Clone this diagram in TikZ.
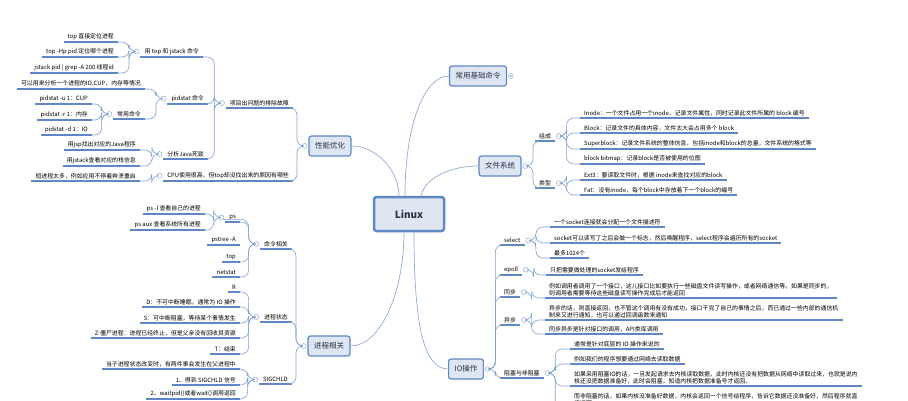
\documentclass[tikz,border=0pt]{standalone}
\usepackage{fontspec}
\setmainfont{Noto Sans CJK SC}
\usetikzlibrary{positioning}
\definecolor{MapBlue}{RGB}{95,135,195}
\definecolor{MapFill}{RGB}{222,230,242}
\definecolor{MapText}{RGB}{40,50,70}
\tikzset{
  topic/.style={draw=MapBlue, fill=MapFill, rounded corners=2.5pt, line width=1.2pt,
    font=\fontsize{7.5}{9}\selectfont, text=MapText, minimum height=20pt, inner xsep=6pt},
  uline/.style={draw=MapBlue, line width=1.2pt},
  leaf/.style={font=\fontsize{5.9}{7}\selectfont, inner xsep=4pt, inner ysep=2pt,
    append after command={(\tikzlastnode.south west) edge[uline] (\tikzlastnode.south east)}},
  branch/.style={draw=MapBlue!80, line width=0.6pt, rounded corners=7pt},
  link/.style={draw=MapBlue!70, line width=0.7pt},
  tog/.style={circle, draw=MapBlue!80, fill=white, inner sep=0pt, minimum size=5pt, line width=0.4pt},
}
\newcommand{\lbr}[2]{\draw[branch] (#1.west) -- ++(-5,0) |- (#2.south east);}
\newcommand{\rbr}[2]{\draw[branch] (#1.east) -- ++(5,0) |- (#2.south west);}
\begin{document}
\begin{tikzpicture}[x=1pt, y=-1pt]
    \useasboundingbox (0,0) rectangle (908,400);

    % Centre et thèmes
    \node[topic, line width=2.5pt, minimum width=70pt, minimum height=34pt, font=\fontsize{10}{12}\selectfont\bfseries] (linux) at (409,214) {Linux};
    \node[topic] (cmdb) at (478,76) {常用基础命令};
    \node[topic] (perf) at (330,146) {性能优化};
    \node[topic] (fs) at (500,166) {文件系统};
    \node[topic] (proc) at (329,346) {进程相关};
    \node[topic] (io) at (466,369) {IO操作};
    \draw[link] ([xshift=-4pt]linux.north) .. controls +(0,-70) and +(-25,0) .. (cmdb.west);
    \draw[link] ([xshift=-10pt]linux.north) .. controls +(0,-25) and +(25,0) .. (perf.east);
    \draw[link] ([xshift=12pt]linux.north) .. controls +(5,-20) and +(-25,0) .. (fs.west);
    \draw[link] ([xshift=-5pt]linux.south) .. controls +(0,60) and +(30,0) .. (proc.east);
    \draw[link] ([xshift=5pt]linux.south) .. controls +(0,90) and +(-25,0) .. (io.west);
    \node[tog, right=1pt of cmdb] (cmdbt) {};
    \fill[MapBlue] (cmdbt) circle (0.9);

    % Performance
    \node[tog, left=1pt of perf] (perft) {};
    \node[leaf, anchor=south east] (trb) at (293,108) {项目出问题的排除故障};
    \node[leaf, anchor=south east] (cpu) at (293,181) {CPU使用很高，但top却没找出来的原因有哪些};
    \node[leaf, anchor=south east] (tj) at (203,57) {用 top 和 jstack 命令};
    \node[leaf, anchor=south east] (pid) at (208,104) {pidstat 命令};
    \node[leaf, anchor=south east] (jdl) at (208,159) {分析Java死锁};
    \node[leaf, anchor=south east] (t1) at (118,42) {top 直接定位进程};
    \node[leaf, anchor=south east] (t2) at (118,57) {top -Hp pid 定位哪个进程};
    \node[leaf, anchor=south east] (t3) at (118,73) {jstack pid | grep -A 200 线程id};
    \node[leaf, anchor=south east] (p1) at (145,89) {可以用来分析一个进程的IO,CUP，内存等情况};
    \node[leaf, anchor=south east] (pc) at (145,119) {常用命令};
    \node[leaf, anchor=south east] (pc1) at (92,104) {pidstat -u 1：CUP};
    \node[leaf, anchor=south east] (pc2) at (92,120) {pidstat -r 1：内存};
    \node[leaf, anchor=south east] (pc3) at (92,135) {pidstat -d 1：IO};
    \node[leaf, anchor=south east] (j1) at (140,150) {用jsp找出对应的Java程序};
    \node[leaf, anchor=south east] (j2) at (140,166) {用jstack查看对应的栈信息};
    \node[leaf, anchor=south east] (c1) at (140,181) {短进程太多，例如应用不停着奔溃重启};
    \foreach \p in {trb,cpu,tj,pid,jdl,pc}
        \node[tog, left=1pt of \p] (\p t) {};
    \foreach \c in {trb,cpu} {\lbr{perft}{\c}}
    \foreach \c in {tj,pid,jdl} {\lbr{trbt}{\c}}
    \foreach \c in {t1,t2,t3} {\lbr{tjt}{\c}}
    \foreach \c in {p1,pc} {\lbr{pidt}{\c}}
    \foreach \c in {pc1,pc2,pc3} {\lbr{pct}{\c}}
    \foreach \c in {j1,j2} {\lbr{jdlt}{\c}}
    \lbr{cput}{c1}

    % Processus
    \node[tog, left=1pt of proc] (proct) {};
    \node[leaf, anchor=south east] (cmd) at (292,249) {命令相关};
    \node[leaf, anchor=south east] (st) at (292,322) {进程状态};
    \node[leaf, anchor=south east] (sig) at (292,384) {SIGCHLD};
    \node[leaf, anchor=south east] (ps) at (240,222) {ps};
    \node[leaf, anchor=south east] (ps1) at (205,214) {ps -l 查看自己的进程};
    \node[leaf, anchor=south east] (ps2) at (205,230) {ps aux 查看系统所有进程};
    \node[leaf, anchor=south east] (pst) at (240,245) {pstree -A};
    \node[leaf, anchor=south east] (top) at (240,262) {top};
    \node[leaf, anchor=south east] (net) at (240,277) {netstat};
    \node[leaf, anchor=south east] (sR) at (240,292) {R};
    \node[leaf, anchor=south east] (sD) at (240,307) {D：不可中断睡眠，通常为 IO 操作};
    \node[leaf, anchor=south east] (sS) at (240,323) {S：可中断阻塞，等待某个事情发生};
    \node[leaf, anchor=south east] (sZ) at (240,338) {Z:僵尸进程：进程已经终止，但是父亲没有回收其资源};
    \node[leaf, anchor=south east] (sT) at (240,354) {T：结束};
    \node[leaf, anchor=south east] (g0) at (240,369) {当子进程状态改变时，有两件事会发生在父进程中};
    \node[leaf, anchor=south east] (g1) at (240,385) {1、得到 SIGCHLD 信号};
    \node[leaf, anchor=south east] (g2) at (240,399) {2、waitpid()或者wait()调用返回};
    \foreach \p in {cmd,st,sig,ps}
        \node[tog, left=1pt of \p] (\p t) {};
    \foreach \c in {cmd,st,sig} {\lbr{proct}{\c}}
    \foreach \c in {ps,pst,top,net} {\lbr{cmdt}{\c}}
    \foreach \c in {ps1,ps2} {\lbr{pst}{\c}}
    \foreach \c in {sR,sD,sS,sZ,sT} {\lbr{stt}{\c}}
    \foreach \c in {g0,g1,g2} {\lbr{sigt}{\c}}

    % Systeme de fichiers
    \node[tog, right=1pt of fs] (fst) {};
    \node[leaf, anchor=south west] (zc) at (535,141) {组成};
    \node[leaf, anchor=south west] (lx) at (535,188) {类型};
    \node[leaf, anchor=south west] (fi) at (580,118) {Inode：一个文件占用一个inode，记录文件属性，同时记录此文件所属的 block 编号};
    \node[leaf, anchor=south west] (fb) at (580,133) {Block：记录文件的具体内容，文件太大会占用多个 block};
    \node[leaf, anchor=south west] (fsb) at (580,149) {Superblock：记录文件系统的整体信息，包括inode和block的总量，文件系统的格式等};
    \node[leaf, anchor=south west] (fbm) at (580,164) {block bitmap：记录block是否被使用的位图};
    \node[leaf, anchor=south west] (fe) at (580,180) {Ext3：要读取文件时，根据 inode来查找对应的block};
    \node[leaf, anchor=south west] (ff) at (580,195) {Fat：没有inode，每个block中存放着下一个block的编号};
    \foreach \p in {zc,lx}
        \node[tog, right=1pt of \p] (\p t) {};
    \foreach \c in {zc,lx} {\rbr{fst}{\c}}
    \foreach \c in {fi,fb,fsb,fbm} {\rbr{zct}{\c}}
    \foreach \c in {fe,ff} {\rbr{lxt}{\c}}

    % IO
    \node[tog, right=1pt of io] (iot) {};
    \node[leaf, anchor=south west] (sel) at (500,245) {select};
    \node[leaf, anchor=south west] (ep) at (500,275) {epoll};
    \node[leaf, anchor=south west] (sy) at (500,297) {同步};
    \node[leaf, anchor=south west] (asy) at (500,325) {异步};
    \node[leaf, anchor=south west] (blk) at (500,378) {阻塞与非阻塞};
    \node[leaf, anchor=south west] (s1) at (550,227) {一个socket连接就会分配一个文件描述符};
    \node[leaf, anchor=south west] (s2) at (550,243) {socket可以读写了之后会做一个标志，然后唤醒程序，select程序会遍历所有的socket};
    \node[leaf, anchor=south west] (s3) at (550,258) {最多1024个};
    \node[leaf, anchor=south west] (e1) at (546,275) {只把需要做处理的socket发给程序};
    \node[leaf, anchor=south west, align=left] (sy1) at (545,298) {例如调用者调用了一个接口，这儿接口比如要执行一些磁盘文件读写操作，或者网络通信等。如果是同步的，\\则调用者需要等待这些磁盘读写操作完成后才能返回};
    \node[leaf, anchor=south west, align=left] (a1) at (545,320) {异步的话，则直接返回，也不管这个调用有没有成功，接口干完了自己的事情之后，而已通过一些内部的通信机\\制来又进行通知，也可以通过回调函数来通知};
    \node[leaf, anchor=south west] (a2) at (545,334) {同步异步是针对接口的调用，API类库调用};
    \node[leaf, anchor=south west] (b1) at (570,349) {通常是针对底层的 IO 操作来说的};
    \node[leaf, anchor=south west] (b2) at (570,364) {例如我们的程序想要通过网络去读取数据};
    \node[leaf, anchor=south west, align=left] (b3) at (570,386) {如果采用阻塞IO的话，一旦发起请求去内核读取数据，此时内核还没有把数据从网络中读取过来，也就是说内\\核还没把数据准备好，此时会阻塞，知道内核把数据准备号才返回。};
    \node[leaf, anchor=south west, align=left] (b4) at (570,408) {而非阻塞的话，如果内核没准备好数据，内核会返回一个信号给程序，告诉它数据还没准备好，然后程序就直\\接返回};
    \foreach \p in {sel,ep,sy,asy,blk}
        \node[tog, right=1pt of \p] (\p t) {};
    \foreach \c in {sel,ep,sy,asy,blk} {\rbr{iot}{\c}}
    \foreach \c in {s1,s2,s3} {\rbr{selt}{\c}}
    \rbr{ept}{e1}
    \rbr{syt}{sy1}
    \foreach \c in {a1,a2} {\rbr{asyt}{\c}}
    \foreach \c in {b1,b2,b3,b4} {\rbr{blkt}{\c}}
\end{tikzpicture}
\end{document}
